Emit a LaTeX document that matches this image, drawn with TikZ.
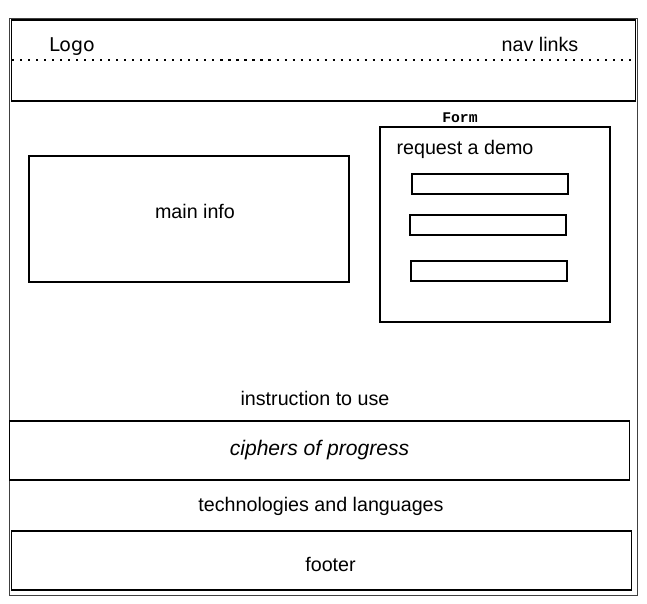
\documentclass[tikz,border=0pt]{standalone}
\usepackage{fontspec}
\setmainfont{Liberation Sans}
\newfontfamily\logofont{DejaVu Sans}
\newfontfamily\formfont{Liberation Mono}
\usetikzlibrary{positioning}

\begin{document}
\begin{tikzpicture}[x=0.025cm, y=-0.025cm]
            % Set styles
            \tikzset{
                box/.style={
                        draw,
                        rectangle,
                        line width=0.8pt,
                        inner sep=0pt
                    }
            }
            \tikzset{
                inputBox/.style={
                        box,
                        minimum width=3.9cm,
                        minimum height=0.5cm
                    }
            }
            \tikzset{
                wideBox/.style={
                        box,
                        minimum width=15.475cm,
                        minimum height=1.475cm
                    }
            }
            \tikzset{
                label/.style={
                        inner sep=0pt,
                        font=\fontsize{14}{16}\selectfont
                    }
            }
            \useasboundingbox (0,0) rectangle (647,604);
            % Placing frame and header
            \node[draw=black!75, double=white, double distance=0.7pt, line width=0.6pt, rectangle, minimum width=15.725cm, minimum height=14.45cm, inner sep=0pt](page) at (323.5,307){};
            \node[box, minimum width=15.575cm, minimum height=2.025cm](header) at (323.5,60.5){};
            \coordinate (navLeft) at (12,60);
            \coordinate (navRight) at (635,60);
            \draw[line width=0.9pt, dash pattern=on 1.5pt off 4.2pt] (navLeft) -- (navRight);
            \node[label, font=\logofont\fontsize{13.5}{16}\selectfont](logo) at (72,47){Logo};
            \node[label](navLinks) at (540,44){nav links};
            % Placing main info and form
            \node[box, minimum width=8cm, minimum height=3.15cm, label, text height=10pt, text depth=10pt](mainInfo) at (189,219){\hspace*{0.3cm}main info};
            \node[box, minimum width=5.75cm, minimum height=4.875cm](formBox) at (495,224.5){};
            \node[label, font=\formfont\bfseries\fontsize{10.5}{12}\selectfont](formTitle) at (460,118){Form};
            \node[label](requestDemo) at (465,149){request a demo};
            \node[inputBox](input1) at (490,184){};
            \node[inputBox](input2) at (488,225){};
            \node[inputBox](input3) at (489,271){};
            % Placing lower sections
            \node[label](instruction) at (315,398){instruction to use};
            \node[wideBox, label, font=\itshape\fontsize{15}{17}\selectfont](ciphers) at (319.5,450.5){ciphers of progress};
            \node[label](technologies) at (321,506){technologies and languages};
            \node[wideBox, label, text height=16pt, text depth=0pt](footer) at (321.5,560.5){\hspace*{0.45cm}footer};

        \end{tikzpicture}
\end{document}
